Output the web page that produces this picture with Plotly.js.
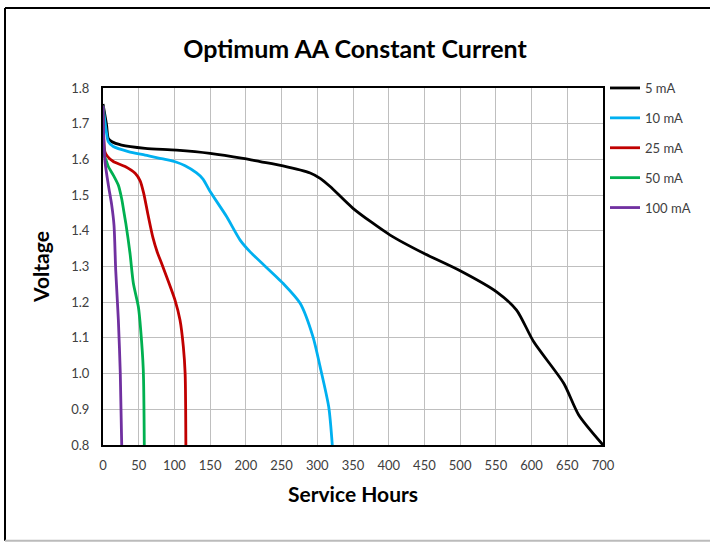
<!DOCTYPE html>
<html>
<head>
<meta charset="utf-8">
<script src="https://cdn.plot.ly/plotly-3.0.1.min.js"></script>
<style>html,body{margin:0;padding:0;background:#fff;}#chart{width:710px;height:542px;}</style>
</head>
<body>
<div id="chart"></div>
<script>
const seriesNames = ["5 mA", "10 mA", "25 mA", "50 mA", "100 mA"];
const seriesColors = ["#000000", "#00b0f0", "#c00000", "#00b050", "#7030a0"];

const hours5 = [0, 5, 7.4, 12, 26, 59, 103, 150, 196, 220, 252, 290, 304, 318, 350, 402, 449, 500, 551, 579, 603, 645, 666, 700];
const volts5 = [1.755, 1.696, 1.659, 1.650, 1.640, 1.631, 1.626, 1.617, 1.603, 1.594, 1.582, 1.562, 1.547, 1.524, 1.463, 1.388, 1.337, 1.288, 1.229, 1.178, 1.089, 0.973, 0.884, 0.800];

const hours10 = [0, 5, 7.4, 14.4, 35.5, 59, 87, 103, 115, 131, 140, 150, 173, 192, 206, 252, 276, 294, 304, 316, 321];
const volts10 = [1.75, 1.673, 1.650, 1.636, 1.622, 1.612, 1.600, 1.592, 1.582, 1.562, 1.545, 1.510, 1.440, 1.374, 1.341, 1.253, 1.197, 1.103, 1.019, 0.907, 0.800];

const hours25 = [0, 2.8, 6.5, 14.4, 31, 45, 52, 57, 63, 70, 76, 82, 100.8, 107.8, 112.5, 115, 116];
const volts25 = [1.75, 1.620, 1.608, 1.594, 1.580, 1.561, 1.540, 1.505, 1.445, 1.380, 1.340, 1.309, 1.206, 1.150, 1.075, 1.000, 0.800];

const hours50 = [0, 2, 5, 7.4, 14.4, 21.4, 26, 30, 32, 37.8, 42.5, 49.5, 52.8, 56.4, 57.8];
const volts50 = [1.75, 1.610, 1.594, 1.580, 1.556, 1.528, 1.491, 1.444, 1.420, 1.337, 1.253, 1.187, 1.122, 1.010, 0.800];

const hours100 = [0, 1, 2.8, 7.5, 12.2, 15.4, 17.8, 21.5, 24.2, 26.2];
const volts100 = [1.75, 1.660, 1.594, 1.528, 1.472, 1.416, 1.290, 1.150, 1.000, 0.800];

const xTicks = [0, 50, 100, 150, 200, 250, 300, 350, 400, 450, 500, 550, 600, 650, 700];
const yTicks = [0.8, 0.9, 1.0, 1.1, 1.2, 1.3, 1.4, 1.5, 1.6, 1.7, 1.8];

const xs = [hours5, hours10, hours25, hours50, hours100];
const ys = [volts5, volts10, volts25, volts50, volts100];

const traces = seriesNames.map((n, i) => ({
  x: xs[i], y: ys[i], name: n, type: 'scatter', mode: 'lines',
  legendgroup: 'g' + i,
  line: {color: seriesColors[i], width: 2.8, shape: 'spline', smoothing: 0.7}
}));

const FONT = 'Lato, "Open Sans", sans-serif';
const layout = {
  width: 710, height: 542,
  margin: {l: 103, r: 107, t: 88, b: 97},
  paper_bgcolor: '#ffffff', plot_bgcolor: '#ffffff',
  font: {family: FONT, color: '#404040'},
  title: {text: 'Optimum AA Constant Current', font: {family: FONT, size: 25, color: '#000', weight: 'bold'},
          x: 0.5, xanchor: 'center', y: 0.91, yanchor: 'middle'},
  xaxis: {
    range: [0, 700], tickvals: xTicks, ticktext: xTicks.map(String),
    showgrid: true, gridcolor: '#bfbfbf', gridwidth: 1,
    showline: true, linecolor: '#000', linewidth: 2, mirror: true,
    ticks: '', zeroline: false, tickfont: {size: 13, color: '#404040'}, ticklabelstandoff: 7,
    title: {text: 'Service Hours', font: {size: 21, color: '#000', weight: 'bold'}, standoff: 16}
  },
  yaxis: {
    range: [0.8, 1.8], tickvals: yTicks, ticktext: yTicks.map(v => v.toFixed(1)),
    showgrid: true, gridcolor: '#bfbfbf', gridwidth: 1,
    showline: true, linecolor: '#000', linewidth: 2, mirror: true,
    ticks: '', zeroline: false, tickfont: {size: 13, color: '#404040'}, ticklabelstandoff: 9,
    title: {text: 'Voltage', font: {size: 21, color: '#000', weight: 'bold'}, standoff: 16}
  },
  showlegend: true,
  legend: {x: 1.004, xanchor: 'left', y: 1.042, yanchor: 'top', traceorder: 'grouped',
           tracegroupgap: 10, font: {size: 13, color: '#404040'}, bgcolor: 'rgba(0,0,0,0)', itemwidth: 30},
  shapes: [
    {type: 'line', xref: 'paper', yref: 'paper', x0: -0.196, x1: -0.196, y0: -0.268, y1: 1.224, line: {color: '#000', width: 2}},
    {type: 'line', xref: 'paper', yref: 'paper', x0: -0.196, x1: 1.3, y0: 1.224, y1: 1.224, line: {color: '#000', width: 2}},
    {type: 'line', xref: 'paper', yref: 'paper', x0: -0.196, x1: 1.3, y0: -0.268, y1: -0.268, line: {color: '#bbbbbb', width: 2}}
  ]
};

Plotly.newPlot('chart', traces, layout, {displayModeBar: false, staticPlot: true});
</script>
</body>
</html>
